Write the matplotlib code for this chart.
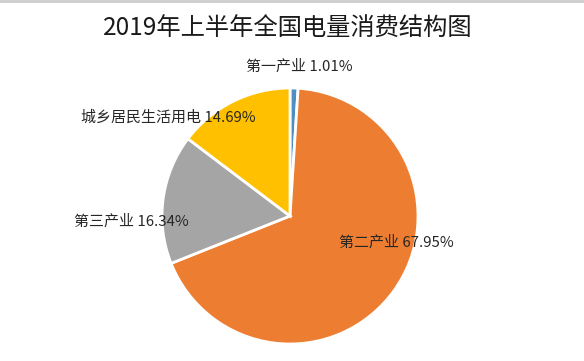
import matplotlib
matplotlib.use("Agg")
import matplotlib.pyplot as plt

plt.rcParams['font.family'] = ['Noto Sans CJK SC', 'DejaVu Sans']

title = "2019年上半年全国电量消费结构图"
categories = ["第一产业", "第二产业", "第三产业", "城乡居民生活用电"]
values = [1.01, 67.95, 16.34, 14.69]
colors = ["#4F8DC4", "#ED7D31", "#A5A5A5", "#FFC000"]
# label centers in pixel coords (x, y from top)
label_pos = [(299, 67), (396, 243), (131, 222), (168, 118)]

W, H = 584, 361
fig = plt.figure(figsize=(W / 100, H / 100), dpi=100)
ax = fig.add_axes([0, 0, 1, 1])
ax.set_aspect('equal')
ax.axis('off')

ax.pie(values, colors=colors, startangle=90, counterclock=False,
       center=(290, H - 216), radius=128,
       wedgeprops=dict(edgecolor='white', linewidth=2))
ax.set_xlim(0, W)
ax.set_ylim(0, H)

for cat, v, (x, y) in zip(categories, values, label_pos):
    ax.text(x, H - y, f"{cat} {v:.2f}%", ha='center', va='center',
            fontsize=10.8, color='#262626')

ax.text(288, H - 29, title, ha='center', va='center', fontsize=17.5, color='#1a1a1a')
ax.plot([0, W], [H - 1, H - 1], color='#cccccc', lw=2)

fig.savefig("out.png", dpi=100)
